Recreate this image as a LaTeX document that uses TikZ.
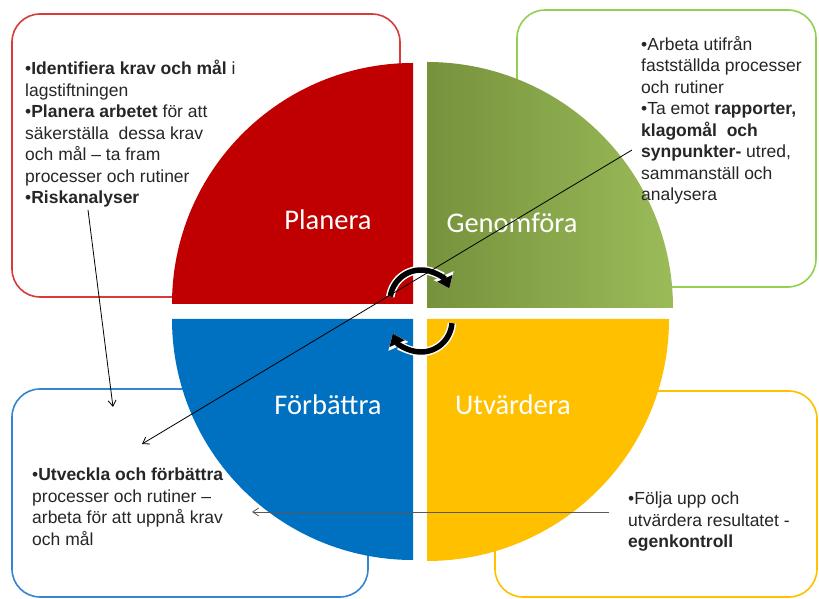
\documentclass[tikz,border=0pt]{standalone}
\usepackage{fontspec}
\setmainfont{Liberation Sans}
\newfontfamily\quadfont{Carlito}
\usepackage{xcolor}
\usepackage{tikz}
\usetikzlibrary{calc,arrows.meta}

\definecolor{planred}{HTML}{C00000}
\definecolor{genleft}{HTML}{76923C}
\definecolor{genright}{HTML}{9BBB59}
\definecolor{forblue}{HTML}{0070C0}
\definecolor{utvyellow}{HTML}{FFC000}
\definecolor{redframe}{HTML}{D93A3A}
\definecolor{greenframe}{HTML}{92D050}
\definecolor{blueframe}{HTML}{3485D2}
\definecolor{yellowframe}{HTML}{FFC000}

\begin{document}
\begin{tikzpicture}[
        x=1pt, y=1pt,
        infobox/.style={line width=1.6pt, rounded corners=28pt, fill=white},
        boxtext/.style={anchor=north west, inner sep=0pt, align=left, text=black!85, font=\fontsize{17.5}{21.5}\selectfont},
        quadlabel/.style={text=white, font=\quadfont\fontsize{28.5}{32}\selectfont},
        turnarrow/.style={line width=5.5pt, -{Triangle[length=11pt,width=16pt]},
            preaction={draw=white, line width=8.5pt, -{Triangle[length=14pt,width=21pt]}}},
        pointer/.style={line width=0.8pt, -{Straight Barb[length=6pt,width=8pt]}}
    ]
        \useasboundingbox (0,0) rectangle (819,599);

        % frames behind the circle
        \draw[infobox, draw=redframe] (12,302) rectangle (400,585);
        \draw[infobox, draw=greenframe] (517,312) rectangle (816,589);
        \draw[infobox, draw=blueframe] (12,2) rectangle (368,210);
        \draw[infobox, draw=yellowframe] (495,2) rectangle (817,208);

        % the four quarters
        \fill[planred] (413,295) -- ++(-241,0) arc[start angle=180, end angle=90, radius=241pt] -- cycle;
        \shade[left color=genleft, right color=genright] (427,291) -- ++(0,246) arc[start angle=90, end angle=0, radius=246pt] -- cycle;
        \fill[forblue] (413,280) -- ++(-241,0) arc[start angle=180, end angle=270, radius=241pt] -- cycle;
        \fill[utvyellow] (427,280) -- ++(242,0) arc[start angle=0, end angle=-90, radius=242pt] -- cycle;

        \node[quadlabel] (planera) at (328,379) {Planera};
        \node[quadlabel] (genomfora) at (512,376) {Genomföra};
        \node[quadlabel] (forbattra) at (328,194) {Förbättra};
        \node[quadlabel] (utvardera) at (513,194) {Utvärdera};

        % turning arrows in the middle
        \coordinate (uppermid) at (421,298);
        \coordinate (lowermid) at (421,278);
        \draw[turnarrow] ($(uppermid)+(172:31)$) arc[start angle=172, end angle=24, radius=31pt];
        \draw[turnarrow] ($(lowermid)+(-4:31)$) arc[start angle=-4, end angle=-156, radius=31pt];

        % texts
        \node[boxtext] (plantext) at (25,539) {%
            •\textbf{Identifiera krav och mål} i\\
            lagstiftningen\\
            •\textbf{Planera arbetet} för att\\
            säkerställa\ \ dessa krav\\
            och mål – ta fram\\
            processer och rutiner\\
            •\textbf{Riskanalyser}};
        \node[boxtext] (gentext) at (641,563) {%
            •Arbeta utifrån\\
            fastställda processer\\
            och rutiner\\
            •Ta emot \textbf{rapporter,}\\
            \textbf{klagomål\ \ och}\\
            \textbf{synpunkter-} utred,\\
            sammanställ och\\
            analysera};
        \node[boxtext] (fortext) at (32,131) {%
            •\textbf{Utveckla och förbättra}\\
            processer och rutiner –\\
            arbeta för att uppnå krav\\
            och mål};
        \node[boxtext] (utvtext) at (628,107) {%
            •Följa upp och\\
            utvärdera resultatet -\\
            \textbf{egenkontroll}};

        % pointers
        \coordinate (riskfrom) at (88,389);
        \coordinate (riskto) at (113,192);
        \coordinate (synpfrom) at (632,449);
        \coordinate (synpto) at (142,155);
        \coordinate (egenfrom) at (609,87);
        \coordinate (egento) at (252,87);
        \draw[pointer] (riskfrom) -- (riskto);
        \draw[pointer] (synpfrom) -- (synpto);
        \draw[pointer, draw=black!65] (egenfrom) -- (egento);
    \end{tikzpicture}
\end{document}
